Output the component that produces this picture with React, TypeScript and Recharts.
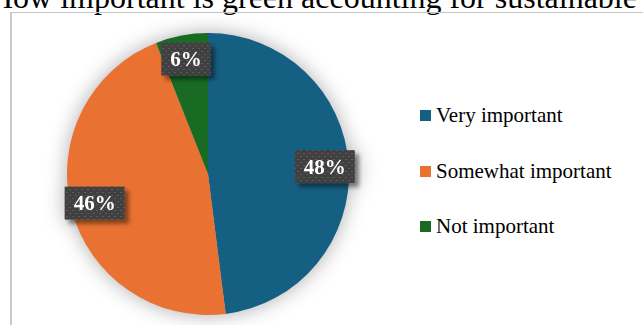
import React from 'react';
import { PieChart, Pie, Legend } from 'recharts';

// survey answers
const categories = ['Very important', 'Somewhat important', 'Not important'];
const shares = [48, 46, 6];
const sliceColors = ['#156082', '#E97132', '#196B24'];

const chartTitle = 'How important is green accounting for sustainable development?';

const pieData = categories.map((name, i) => ({ name, value: shares[i], fill: sliceColors[i] }));

const RADIAN = Math.PI / 180;
const serif = '"Liberation Serif", "Times New Roman", serif';

const renderLabel = (props: any) => {
  const { cx, cy, midAngle, outerRadius, value } = props;
  const r = outerRadius * 0.83;
  const x = cx + r * Math.cos(-midAngle * RADIAN);
  const y = cy + r * Math.sin(-midAngle * RADIAN);
  const w = (String(value).length * 0.5 + 1) * 21 + 18;
  const h = 33;
  return (
    <g filter="url(#labelShadow)">
      <rect x={x - w / 2} y={y - h / 2} width={w} height={h} fill="url(#dots)" />
      <text
        x={x}
        y={y}
        textAnchor="middle"
        dominantBaseline="central"
        fill="#ffffff"
        fontWeight="bold"
        fontSize={21}
        fontFamily={serif}
      >
        {`${value}%`}
      </text>
    </g>
  );
};

const LegendContent = ({ payload }: any) => {
  const items = [...(payload || [])].sort(
    (a: any, b: any) => categories.indexOf(a.value) - categories.indexOf(b.value)
  );
  return (
    <div style={{ fontFamily: serif, fontSize: 21, color: '#000' }}>
      {items.map((entry: any) => (
        <div
          key={entry.value}
          style={{ display: 'flex', alignItems: 'center', height: 55.5, whiteSpace: 'nowrap' }}
        >
          <span
            style={{
              display: 'inline-block',
              width: 11,
              height: 11,
              marginRight: 5,
              background: sliceColors[categories.indexOf(entry.value)],
            }}
          />
          <span>{entry.value}</span>
        </div>
      ))}
    </div>
  );
};

const App: React.FC = () => {
  return (
    <div
      style={{
        position: 'absolute',
        left: 0,
        top: 0,
        width: 643,
        height: 325,
        overflow: 'hidden',
        background: '#fff',
      }}
    >
      <style>{`.pie-box .recharts-surface { filter: drop-shadow(0 0 10px rgba(0,0,0,0.32)); }`}</style>
      <svg width={0} height={0} style={{ position: 'absolute' }}>
        <defs>
          <pattern id="dots" width={6} height={6} patternUnits="userSpaceOnUse">
            <rect width={6} height={6} fill="#3f3f3f" />
            <rect x={0} y={0} width={2} height={1} fill="#5c5c5c" />
            <rect x={3} y={3} width={2} height={1} fill="#5c5c5c" />
          </pattern>
          <filter id="labelShadow" x="-30%" y="-30%" width="160%" height="160%">
            <feDropShadow dx={4} dy={4} stdDeviation={2} floodColor="#000" floodOpacity={0.45} />
          </filter>
        </defs>
      </svg>
      <svg width={643} height={325} style={{ position: 'absolute', left: 0, top: 0 }}>
        <text x={-10} y={8} fontFamily={serif} fontSize={32} fill="#000">
          {chartTitle}
        </text>
      </svg>
      <div
        style={{
          position: 'absolute',
          left: 10,
          top: 12,
          width: 700,
          height: 400,
          borderLeft: '2px solid #cacaca',
          borderTop: '1.5px solid #c4c4c4',
        }}
      />
      <div className="pie-box" style={{ position: 'absolute', left: 0, top: 0 }}>
        <PieChart width={643} height={325} margin={{ top: 0, right: 0, bottom: 0, left: 0 }}>
          <Pie
            data={pieData}
            dataKey="value"
            nameKey="name"
            cx={208}
            cy={174}
            outerRadius={141}
            startAngle={90}
            endAngle={-270}
            stroke="none"
            label={renderLabel}
            labelLine={false}
            isAnimationActive={false}
          />
          <Legend
            layout="vertical"
            verticalAlign="top"
            align="right"
            wrapperStyle={{ left: 420, top: 88, width: 223 }}
            content={<LegendContent />}
          />
        </PieChart>
      </div>
    </div>
  );
};

export default App;
